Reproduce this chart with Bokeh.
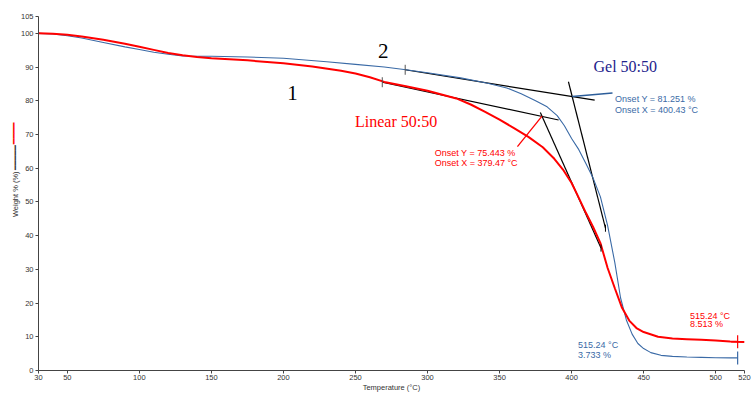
import math
from bokeh.plotting import figure
from bokeh.models import Range1d, FixedTicker, Label, Title
from bokeh.embed import file_html
from bokeh.resources import INLINE

# ---------------- data ----------------
x_ticks = [30, 50, 100, 150, 200, 250, 300, 350, 400, 450, 500, 520]
y_ticks = [0, 10, 20, 30, 40, 50, 60, 70, 80, 90, 100, 105]

linear_T = [30, 40, 50, 60, 75, 90, 100, 110, 120, 130, 140, 150, 175, 200, 220, 240, 250, 260,
            270, 285, 300, 320, 330, 340, 350, 360, 370, 380, 388, 394, 400, 405, 410,
            415, 420, 425, 430, 435, 440, 445, 450, 460, 470, 480, 490, 500, 510, 515.24, 520]
linear_W = [100.0, 99.9, 99.6, 99.1, 98.1, 96.9, 96.0, 95.1, 94.2, 93.5, 93.0, 92.6, 92.0, 91.1, 90.2, 88.9, 88.1, 87.0,
            85.6, 84.3, 83.0, 80.7, 78.9, 76.7, 74.4, 71.9, 69.3, 66.2, 62.8, 59.6, 55.6, 51.2, 46.7,
            42.5, 37.8, 30.4, 24.4, 18.6, 14.8, 12.6, 11.4, 10.0, 9.5, 9.3, 9.1, 8.9, 8.6, 8.513, 8.45]

gel_T = [30, 40, 50, 60, 75, 90, 100, 110, 120, 130, 140, 150, 175, 200, 230, 250, 270, 285,
         300, 323, 341, 355, 365, 375, 383, 390, 395, 400, 405, 410, 415, 420, 425, 430, 434,
         438, 442, 446, 450, 455, 462, 470, 480, 490, 500, 510, 515.24]
gel_W = [100.0, 99.8, 99.3, 98.6, 97.3, 96.0, 95.2, 94.4, 93.8, 93.3, 93.2, 93.2, 93.0, 92.6, 91.6, 90.8, 90.0, 89.2,
         88.3, 86.8, 85.3, 83.8, 82.1, 80.0, 78.2, 75.6, 72.6, 68.8, 65.5, 61.3, 57.0, 51.5, 43.0, 32.0, 21.5,
         15.0, 10.8, 8.0, 6.5, 5.3, 4.5, 4.2, 4.0, 3.9, 3.8, 3.75, 3.733]

onset_linear = (379.47, 75.443)
onset_gel = (400.43, 81.251)
end_linear = (515.24, 8.513)
end_gel = (515.24, 3.733)

# tangent construction lines (analysis software)
lin_base_T, lin_base_W = [268.6, 391.0], [85.5, 74.3]
lin_steep_T, lin_steep_W = [378.3, 420.4], [76.56, 36.3]
gel_base_T, gel_base_W = [284.5, 416.0], [89.2, 80.18]
gel_steep_T, gel_steep_W = [397.8, 423.5], [85.65, 42.2]

RED = "#FF0000"
BLUE = "#3A6AA6"
NAVY = "#23238C"

p = figure(width=751, height=394, x_range=Range1d(30, 520), y_range=Range1d(0, 105),
           output_backend="svg", toolbar_location=None,
           min_border_left=38, min_border_right=7, min_border_top=16, min_border_bottom=23)
p.xgrid.visible = False
p.ygrid.visible = False
p.outline_line_color = None
p.background_fill_color = "white"

for ax in (p.xaxis[0], p.yaxis[0]):
    ax.minor_tick_line_color = None
    ax.major_tick_in = 0
    ax.major_tick_out = 3
    ax.axis_line_color = "#444444"
    ax.major_tick_line_color = "#444444"
    ax.major_label_text_font = "Liberation Sans"
    ax.major_label_text_font_size = "7.5px"
    ax.major_label_text_color = "#333333"
    ax.axis_label_text_font = "Liberation Sans"
    ax.axis_label_text_font_size = "7.5px"
    ax.axis_label_text_font_style = "normal"
    ax.axis_label_text_color = "#333333"

p.xaxis.major_label_standoff = 1
p.xaxis.axis_label_standoff = 0
p.yaxis.major_label_standoff = 2
p.yaxis.axis_label_standoff = -2

p.xaxis.ticker = FixedTicker(ticks=x_ticks)
p.yaxis.ticker = FixedTicker(ticks=y_ticks)
p.xaxis.axis_label = "Temperature (°C)"
# y title with the grey series mark after it (padded in front so the words stay centred)
p.yaxis.axis_label = "\u2007" * 6 + "Weight % (%)" + "\u2009" + "\u2501" * 5

# red series mark beside the y title (padded so it sits above the title)
p.add_layout(Title(text="\u2007" * 21 + "\u2501" * 4, text_color=RED, text_font="DejaVu Sans",
                   text_font_size="9px", text_font_style="normal", align="center",
                   standoff=-23), "left")

# tangent lines
for tx, ty in ((lin_base_T, lin_base_W), (lin_steep_T, lin_steep_W),
               (gel_base_T, gel_base_W), (gel_steep_T, gel_steep_W)):
    p.line(tx, ty, line_color="black", line_width=1.2)

# curves
p.line(gel_T, gel_W, line_color=BLUE, line_width=1.1)
p.line(linear_T, linear_W, line_color=RED, line_width=2)

# leader lines
p.line([362.4, onset_linear[0]], [66.4, onset_linear[1]], line_color=RED, line_width=1.3)
p.line([onset_gel[0], 428.4], [onset_gel[1], 82.3], line_color="#2D5E9A", line_width=1.5)

# tick marks on the curves
p.scatter([lin_base_T[0]], [lin_base_W[0]], marker="dash", angle=math.pi / 2, size=10,
          line_color="#555555", line_width=1)
p.scatter([gel_base_T[0]], [gel_base_W[0]], marker="dash", angle=math.pi / 2, size=10,
          line_color="#555555", line_width=1)
p.scatter([lin_steep_T[1], gel_steep_T[1]], [lin_steep_W[1], gel_steep_W[1]], marker="dash",
          angle=math.pi / 2, size=7, line_color="black", line_width=1)
p.scatter([end_linear[0]], [end_linear[1]], marker="cross", size=13, line_color=RED, line_width=1.2)
p.scatter([end_gel[0]], [end_gel[1]], marker="dash", angle=math.pi / 2, size=13,
          line_color=BLUE, line_width=1.2)


def lab(x, y, text, color, size, font="Liberation Sans"):
    p.add_layout(Label(x=x, y=y, text=text, text_color=color, text_font_size=size,
                       text_font=font, text_align="left", text_baseline="alphabetic"))


SERIF_UP = 1.5
SMALL_UP = 0.9
lab(265.6, 93.2 + SERIF_UP, "2", "black", "21px", "Liberation Serif")
lab(202.7, 80.7 + SERIF_UP, "1", "black", "21px", "Liberation Serif")
lab(415.2, 88.8 + SERIF_UP, "Gel 50:50", NAVY, "16px", "Liberation Serif")
lab(249.7, 72.5 + SERIF_UP, "Linear 50:50", RED, "16px", "Liberation Serif")
lab(430.2, 79.5 + SMALL_UP, "Onset Y = %.3f %%" % onset_gel[1], BLUE, "9px")
lab(430.2, 76.5 + SMALL_UP, "Onset X = %.2f °C" % onset_gel[0], BLUE, "9px")
lab(305.0, 63.7 + SMALL_UP, "Onset Y = %.3f %%" % onset_linear[1], RED, "9px")
lab(305.0, 60.65 + SMALL_UP, "Onset X = %.2f °C" % onset_linear[0], RED, "9px")
lab(482.1, 15.6 + SMALL_UP * 0.7, "%.2f °C" % end_linear[0], RED, "9px")
lab(482.1, 13.1 + SMALL_UP * 0.7, "%.3f %%" % end_linear[1], RED, "9px")
lab(404.5, 7.0 + SMALL_UP * 0.7, "%.2f °C" % end_gel[0], BLUE, "9px")
lab(404.5, 4.05 + SMALL_UP * 0.7, "%.3f %%" % end_gel[1], BLUE, "9px")

open("out.html", "w").write(file_html(p, INLINE))
